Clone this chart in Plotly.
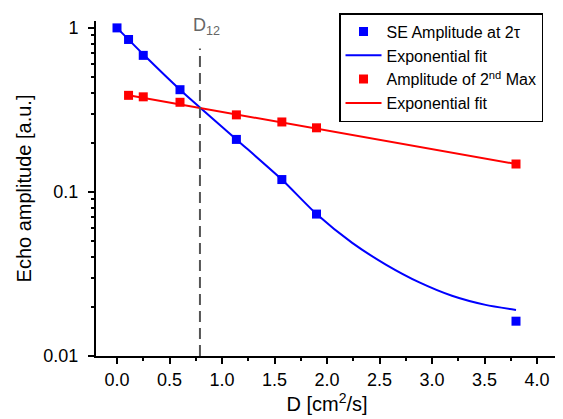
import math
import plotly.graph_objects as go

# Data
se_x = [0.0, 0.11, 0.25, 0.6, 1.137, 1.57, 1.9, 3.8]
se_y = [1.0, 0.85, 0.68, 0.42, 0.209, 0.119, 0.0733, 0.0163]

se_fit_x = [0.0, 0.25, 0.6, 1.137, 1.57, 1.9, 2.24, 2.56, 2.88, 3.19, 3.51, 3.8]
se_fit_y = [1.0, 0.69, 0.42, 0.209, 0.119, 0.0733, 0.0489, 0.0361, 0.0281, 0.0233, 0.0205, 0.0191]

mx_x = [0.11, 0.25, 0.6, 1.137, 1.57, 1.9, 3.8]
mx_y = [0.388, 0.38, 0.352, 0.295, 0.267, 0.246, 0.148]

mx_fit_x = [0.11, 3.8]
mx_fit_y = [0.388, 0.148]

d12 = 0.79
d12_top = 0.75
d12_label_y = 0.93

FONT = "Liberation Sans, Arial, sans-serif"

fig = go.Figure()
fig.add_trace(go.Scatter(x=se_x, y=se_y, mode="markers", name="SE Amplitude at 2τ",
                         marker=dict(symbol="square", size=9, color="#0000ff")))
fig.add_trace(go.Scatter(x=se_fit_x, y=se_fit_y, mode="lines", name="Exponential fit",
                         line=dict(color="#0000ff", width=2, shape="spline", smoothing=0.6)))
fig.add_trace(go.Scatter(x=mx_x, y=mx_y, mode="markers", name="Amplitude of 2<sup>nd</sup> Max",
                         marker=dict(symbol="square", size=9, color="#ff0000")))
fig.add_trace(go.Scatter(x=mx_fit_x, y=mx_fit_y, mode="lines", name="Exponential fit",
                         line=dict(color="#ff0000", width=2)))

fig.add_shape(type="line", x0=d12, x1=d12, y0=0.01, y1=d12_top, xref="x", yref="y",
              line=dict(color="#555555", width=2, dash="11px,6px"))
fig.add_annotation(x=d12, y=math.log10(d12_label_y), xref="x", yref="y", text="D<sub>12</sub>",
                   showarrow=False, xanchor="left", yanchor="middle", xshift=-9, yshift=7,
                   font=dict(family=FONT, size=18, color="#666666"))

# The page body adds an 8px margin, so the figure is sized to fill the rest of the window.
fig.update_layout(
    width=555, height=411,
    margin=dict(l=88, r=5, t=9, b=63),
    paper_bgcolor="white", plot_bgcolor="white",
    font=dict(family=FONT, size=17, color="black"),
    showlegend=True,
    legend=dict(x=0.526, y=1.0236, xanchor="left", yanchor="top",
                bordercolor="black", borderwidth=1.5, bgcolor="white",
                font=dict(family=FONT, size=16, color="black"),
                tracegroupgap=0, itemwidth=36),
    xaxis=dict(range=[-0.2, 4.2], dtick=0.5, tick0=0, tickformat=".1f", automargin=False,
               showgrid=False, zeroline=False, showline=True, linecolor="black", linewidth=2,
               ticks="outside", ticklen=6, tickwidth=1.5, tickcolor="black",
               minor=dict(dtick=0.25, tick0=0, ticks="outside", ticklen=3, tickwidth=1.5, tickcolor="black"),
               title=dict(text="D [cm<sup>2</sup>/s]", standoff=6),
               tickfont=dict(size=18)),
    yaxis=dict(type="log", range=[-2, 0.042], tickvals=[0.01, 0.1, 1], ticktext=["0.01", "0.1", "1"],
               automargin=False, ticklabelstandoff=6,
               showgrid=False, zeroline=False, showline=True, linecolor="black", linewidth=2,
               ticks="outside", ticklen=6, tickwidth=1.5, tickcolor="black",
               minor=dict(dtick="D1", ticks="outside", ticklen=3, tickwidth=1.5, tickcolor="black"),
               title=dict(text="Echo amplitude [a.u.]", standoff=6),
               tickfont=dict(size=18)),
)

fig.write_html("out.html")
